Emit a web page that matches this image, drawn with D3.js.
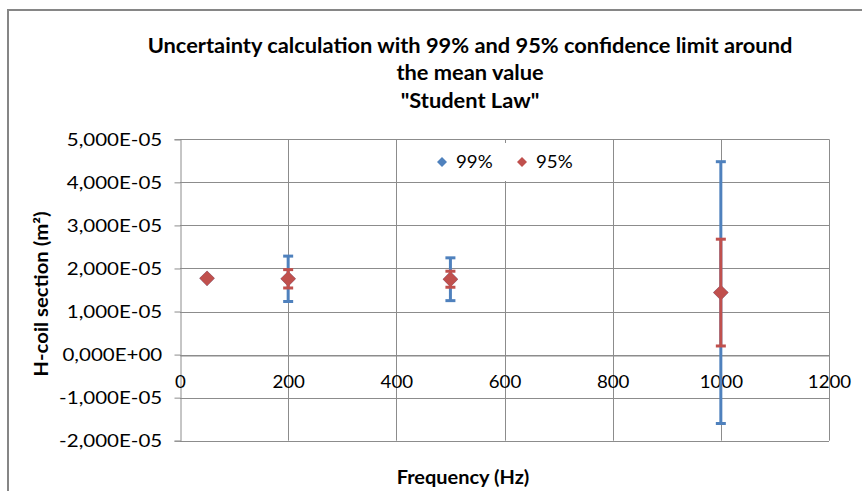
<!DOCTYPE html>
<html>
<head>
<meta charset="utf-8">
<script src="https://cdn.jsdelivr.net/npm/d3@7"></script>
<style>
  body { margin: 0; background: #ffffff; }
  svg { display: block; }
  text { font-family: Lato, "Open Sans", sans-serif; fill: #000; }
</style>
</head>
<body>
<svg id="chart" width="862" height="491"></svg>
<script>
// ---- data ----
const titleLines = ["Uncertainty calculation with 99% and 95% confidence limit around", "the mean value", "\"Student Law\""];
const xTitle = "Frequency (Hz)";
const yTitle = "H-coil section (m²)";
const seriesNames = ["99%", "95%"];
const frequencies = [50, 200, 500, 1000];
const mean99 = [1.77e-5, 1.76e-5, 1.75e-5, 1.44e-5];
const err99  = [0, 0.527e-5, 0.497e-5, 3.04e-5];
const mean95 = [1.77e-5, 1.76e-5, 1.75e-5, 1.44e-5];
const err95  = [0, 0.213e-5, 0.186e-5, 1.24e-5];
const xTickValues = [0, 200, 400, 600, 800, 1000, 1200];
const xTickLabels = ["0", "200", "400", "600", "800", "1000", "1200"];
const yTickValues = [-2e-5, -1e-5, 0, 1e-5, 2e-5, 3e-5, 4e-5, 5e-5];
const yTickLabels = ["-2,000E-05", "-1,000E-05", "0,000E+00", "1,000E-05", "2,000E-05", "3,000E-05", "4,000E-05", "5,000E-05"];

// ---- layout ----
const colors = ["#4F81BD", "#C0504D"];
const gridColor = "#8c8c8c";
const plot = { left: 180, right: 829, top: 139.3, bottom: 440.7 };

const svg = d3.select("#chart");

// chart border
svg.append("path")
  .attr("d", "M8,491 L8,10 L870,10")
  .attr("fill", "none").attr("stroke", "#868686").attr("stroke-width", 2);

const x = d3.scaleLinear().domain([0, 1200]).range([plot.left, plot.right]);
const y = d3.scaleLinear().domain([-2e-5, 5e-5]).range([plot.bottom, plot.top]);

// horizontal gridlines
svg.append("g").selectAll("line").data(yTickValues).join("line")
  .attr("x1", plot.left).attr("x2", plot.right)
  .attr("y1", d => Math.round(y(d)) + 0.5).attr("y2", d => Math.round(y(d)) + 0.5)
  .attr("stroke", gridColor).attr("stroke-width", 1);
// vertical gridlines
svg.append("g").selectAll("line").data(xTickValues.slice(1)).join("line")
  .attr("x1", d => Math.round(x(d)) + 0.5).attr("x2", d => Math.round(x(d)) + 0.5)
  .attr("y1", plot.top).attr("y2", plot.bottom)
  .attr("stroke", gridColor).attr("stroke-width", 1);

// y axis
const yAxis = d3.axisLeft(y).tickValues(yTickValues)
  .tickFormat((d, i) => yTickLabels[i]).tickSize(6).tickPadding(10);
const gy = svg.append("g").attr("transform", `translate(${plot.left + 0.5},0)`).call(yAxis);
gy.select(".domain").attr("stroke", gridColor);
gy.selectAll(".tick line").attr("stroke", gridColor);
gy.selectAll(".tick text").style("font-size", "18px").style("font-family", "Lato, sans-serif")
  .attr("fill", "#000").attr("transform", "scale(1.14,1)");

// x axis at y=0
const xAxis = d3.axisBottom(x).tickValues(xTickValues)
  .tickFormat((d, i) => xTickLabels[i]).tickSize(0).tickPadding(20);
const gx = svg.append("g").attr("transform", `translate(0,${Math.round(y(0)) + 0.5})`).call(xAxis);
gx.select(".domain").attr("stroke", gridColor);
gx.selectAll(".tick text").style("font-size", "17px").style("font-family", "Lato, sans-serif")
  .attr("fill", "#000").attr("transform", "scale(1.1,1)");

// legend
const lg = svg.append("g");
lg.append("rect").attr("x", 418).attr("y", 143).attr("width", 167).attr("height", 38).attr("fill", "#fff");
const legendItems = [{ name: seriesNames[0], c: colors[0], x: 442 }, { name: seriesNames[1], c: colors[1], x: 522 }];
legendItems.forEach(it => {
  lg.append("path").attr("d", d3.symbol(d3.symbolDiamond2, 64)())
    .attr("transform", `translate(${it.x},162)`).attr("fill", it.c);
  lg.append("text").attr("transform", `translate(${it.x + 14},162) scale(1.1,1)`).attr("dy", "0.35em")
    .style("font-size", "17px").text(it.name);
});

// series
const series = [
  { mean: mean99, err: err99, c: colors[0] },
  { mean: mean95, err: err95, c: colors[1] }
];
series.forEach(s => {
  const g = svg.append("g");
  const pts = frequencies.map((f, i) => ({ f, m: s.mean[i], e: s.err[i] }));
  const eb = pts.filter(p => p.e > 0);
  g.selectAll("line.bar").data(eb).join("line").attr("class", "bar")
    .attr("x1", p => x(p.f)).attr("x2", p => x(p.f))
    .attr("y1", p => y(p.m + p.e)).attr("y2", p => y(p.m - p.e))
    .attr("stroke", s.c).attr("stroke-width", 3);
  g.selectAll("line.capT").data(eb).join("line").attr("class", "capT")
    .attr("x1", p => x(p.f) - 5).attr("x2", p => x(p.f) + 5)
    .attr("y1", p => y(p.m + p.e)).attr("y2", p => y(p.m + p.e))
    .attr("stroke", s.c).attr("stroke-width", 3);
  g.selectAll("line.capB").data(eb).join("line").attr("class", "capB")
    .attr("x1", p => x(p.f) - 5).attr("x2", p => x(p.f) + 5)
    .attr("y1", p => y(p.m - p.e)).attr("y2", p => y(p.m - p.e))
    .attr("stroke", s.c).attr("stroke-width", 3);
  g.selectAll("path.pt").data(pts).join("path").attr("class", "pt")
    .attr("d", d3.symbol(d3.symbolDiamond2, 150)())
    .attr("transform", p => `translate(${x(p.f)},${y(p.m)})`)
    .attr("fill", s.c);
});

// title
const tg = svg.append("text").attr("text-anchor", "middle")
  .attr("transform", "translate(470,0) scale(1.04,1)")
  .style("font-size", "21px").style("font-weight", "bold");
titleLines.forEach((t, i) => {
  tg.append("tspan").attr("x", 0).attr("y", 53 + i * 27.5).text(t);
});

// axis titles
svg.append("text").attr("text-anchor", "middle")
  .attr("transform", "translate(48,294) rotate(-90) scale(1.13,1)")
  .style("font-size", "18px").style("font-weight", "bold").text(yTitle);
svg.append("text").attr("text-anchor", "middle")
  .attr("transform", "translate(463,484) scale(1.11,1)")
  .style("font-size", "18px").style("font-weight", "bold").text(xTitle);
</script>
</body>
</html>
